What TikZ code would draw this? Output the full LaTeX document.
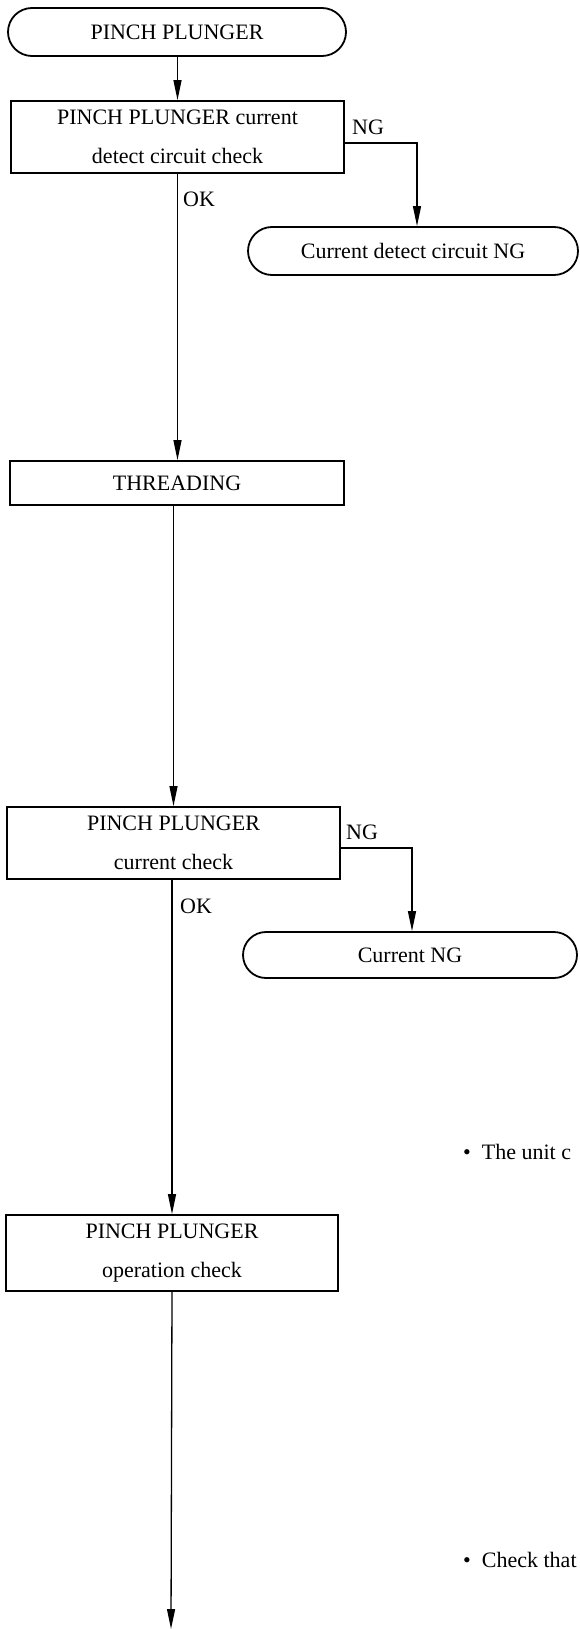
\documentclass[tikz,border=0pt]{standalone}
\usepackage{fontspec}
\setmainfont{Liberation Serif}
\usetikzlibrary{arrows.meta,shapes.misc,calc}
\begin{document}
\begin{tikzpicture}[x=1pt,y=-1pt,
  txt/.style={font=\fontsize{22}{39}\selectfont, align=center, inner sep=0pt},
  term/.style={txt, draw, line width=1.8pt, rounded rectangle, minimum height=48pt},
  procbox/.style={txt, draw, line width=1.8pt, rectangle, minimum height=72pt},
  lbl/.style={font=\fontsize{22}{26}\selectfont, inner sep=0pt, anchor=west},
  conn/.style={line width=1.3pt},
  arr/.style={conn, -{Triangle[length=20pt,width=8pt]}}
]
\useasboundingbox[fill=white] (0,0) rectangle (579,1629);

\node[term, minimum width=338pt] (start) at (177,32) {PINCH PLUNGER};
\node[procbox, minimum width=333pt] (b1) at (177.5,137) {PINCH PLUNGER current\\detect circuit check};
\node[term, minimum width=330pt] (o2) at (413,251) {Current detect circuit NG};
\node[procbox, minimum width=334pt, minimum height=44pt] (th) at (177,483) {THREADING};
\node[procbox, minimum width=333pt] (b3) at (173.5,843) {PINCH PLUNGER\\current check};
\node[term, minimum width=334pt, minimum height=46pt] (o3) at (410,955) {Current NG};
\node[procbox, minimum width=332pt, minimum height=76pt] (b4) at (172,1253) {PINCH PLUNGER\\operation check};

\node[lbl] (ng1) at (352,127) {NG};
\node[lbl] (ok1) at (183,199) {OK};
\node[lbl] (ng2) at (346,832) {NG};
\node[lbl] (ok2) at (180,906) {OK};
\node[lbl] (note1) at (463,1152) {\textbullet\ \ The unit c};
\node[lbl] (note2) at (463,1560) {\textbullet\ \ Check that};

\coordinate (end) at (171,1629);
\coordinate (nga) at ($(b1.east)+(0,6)$);
\coordinate (ngb) at ($(b3.east)+(0,5)$);

\draw[arr] (start.south -| b1.north) -- (b1.north);
\draw[arr] (nga) -| ([xshift=4pt]o2.north);
\draw[arr] (b1.south) -- (th.north -| b1.south);
\draw[arr] (b3.north |- th.south) -- (b3.north);
\draw[arr] (ngb) -| ([xshift=2pt]o3.north);
\draw[arr] (b4.north |- b3.south) -- (b4.north);
\draw[arr] (b4.south) -- (end);
\end{tikzpicture}
\end{document}
